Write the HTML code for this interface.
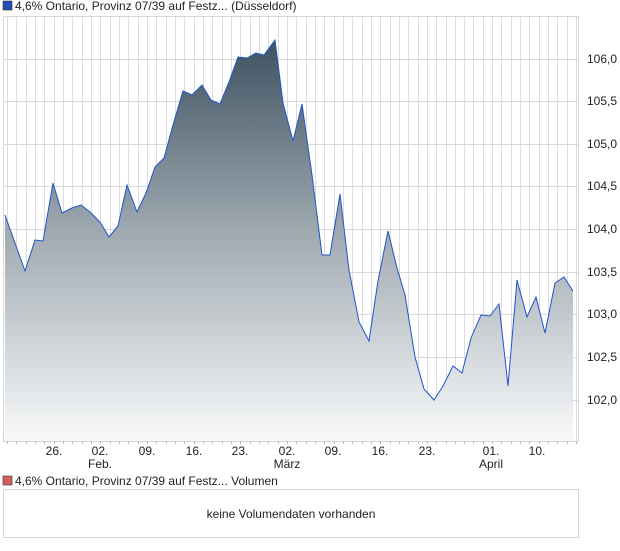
<!DOCTYPE html>
<html><head><meta charset="utf-8"><style>
body{margin:0;background:#fff;width:620px;height:546px;overflow:hidden;font-family:"Liberation Sans",sans-serif;}
</style></head><body>
<svg width="620" height="546" xmlns="http://www.w3.org/2000/svg" font-family="Liberation Sans, sans-serif" font-size="12">
<defs>
<linearGradient id="g" x1="0" y1="40" x2="0" y2="441" gradientUnits="userSpaceOnUse">
<stop offset="0" stop-color="#3e5261"/>
<stop offset="0.5" stop-color="#a3adb4"/>
<stop offset="1" stop-color="#f8f9fa"/>
</linearGradient>
</defs>
<rect x="3" y="1" width="9" height="9" fill="#1f4fb0" stroke="#333" stroke-width="0.6"/>
<text x="15" y="10" fill="#222">4,6% Ontario, Provinz 07/39 auf Festz... (Düsseldorf)</text>
<rect x="3.5" y="16.5" width="575" height="425" fill="#fff" stroke="#d6d6d6"/>
<g stroke="#dcdcdc" stroke-width="1" id="vg"></g>
<g stroke="#d8d8d8">
<line x1="4" y1="59.5" x2="578" y2="59.5"/><line x1="4" y1="101.5" x2="578" y2="101.5"/>
<line x1="4" y1="144.5" x2="578" y2="144.5"/><line x1="4" y1="186.5" x2="578" y2="186.5"/>
<line x1="4" y1="229.5" x2="578" y2="229.5"/><line x1="4" y1="272.5" x2="578" y2="272.5"/>
<line x1="4" y1="314.5" x2="578" y2="314.5"/><line x1="4" y1="357.5" x2="578" y2="357.5"/>
<line x1="4" y1="400.5" x2="578" y2="400.5"/>
</g>
<path id="area" fill="url(#g)" stroke="none"/>
<path id="line" fill="none" stroke="#1f55c8" stroke-width="1"/>
<g fill="#222" font-size="12">
<text x="587" y="63">106,0</text><text x="587" y="105">105,5</text><text x="587" y="148">105,0</text>
<text x="587" y="190">104,5</text><text x="587" y="233">104,0</text><text x="587" y="276">103,5</text>
<text x="587" y="318">103,0</text><text x="587" y="361">102,5</text><text x="587" y="404">102,0</text>
</g>
<g fill="#222" text-anchor="middle">
<text x="54" y="455">26.</text><text x="100" y="455">02.</text><text x="100" y="468">Feb.</text>
<text x="147" y="455">09.</text><text x="194" y="455">16.</text><text x="240" y="455">23.</text>
<text x="287" y="455">02.</text><text x="287" y="468">März</text><text x="333" y="455">09.</text>
<text x="380" y="455">16.</text><text x="427" y="455">23.</text><text x="491" y="455">01.</text>
<text x="491" y="468">April</text><text x="537" y="455">10.</text>
</g>
<rect x="3" y="476" width="9" height="9" fill="#d06060" stroke="#333" stroke-width="0.6"/>
<text x="15" y="485" fill="#222">4,6% Ontario, Provinz 07/39 auf Festz... Volumen</text>
<rect x="3.5" y="489.5" width="575" height="48" fill="#fff" stroke="#d6d6d6"/>
<text x="291" y="518" text-anchor="middle" fill="#222">keine Volumendaten vorhanden</text>
</svg>
<script>
var pts=[[5,215],[15,243],[25,271],[35,240],[43,241],[53,183],[62,213],[72,208],[81,205],[90,212],[100,222],[109,237],[118,226],[127,185],[137,212],[146,193],[155,167],[164,158],[173,125],[183,91],[192,95],[202,85],[211,100],[220,104],[229,82],[238,57],[247,58],[256,53],[264,55],[275,40],[283,103],[293,141],[302,104],[312,175],[322,255],[330,255],[340,194],[349,270],[359,322],[369,341],[378,281],[388,231],[397,268],[405,295],[415,357],[424,389],[434,400],[443,386],[453,366],[462,373],[471,338],[481,315],[490,316],[499,304],[508,386],[517,280],[527,317],[536,297],[545,333],[555,283],[564,277],[573,291]];
var d="M"+pts.map(function(p){return p.join(",")}).join(" L");
document.getElementById("line").setAttribute("d",d);
document.getElementById("area").setAttribute("d",d+" L573,441 L5,441 Z");
var g=document.getElementById("vg"),s="";
for(var x=7;x<578;x+=9.33){var xx=Math.round(x)+0.5;s+='<line x1="'+xx+'" y1="17" x2="'+xx+'" y2="441"/><line x1="'+xx+'" y1="441" x2="'+xx+'" y2="444" stroke="#bbb"/>';}
g.innerHTML=s;
</script>
</body></html>
